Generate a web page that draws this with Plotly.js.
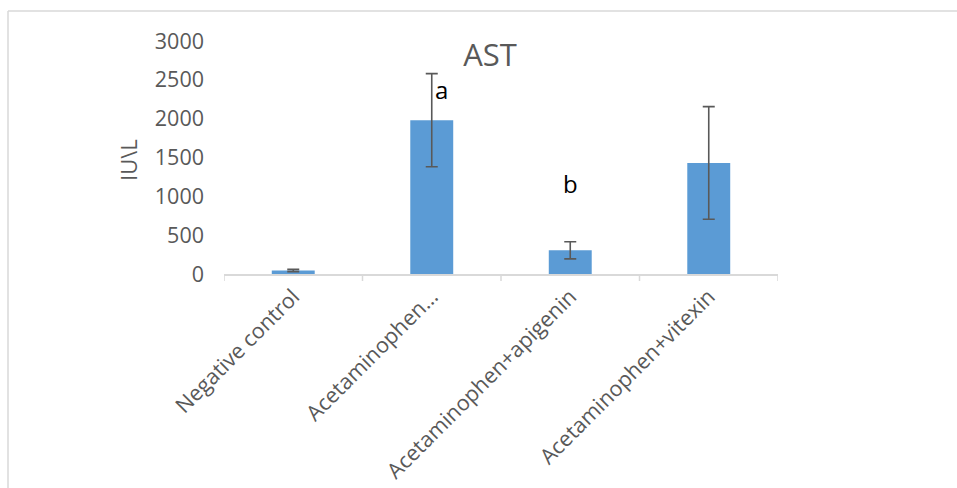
<!DOCTYPE html>
<html>
<head>
<meta charset="utf-8">
<script src="https://cdn.plot.ly/plotly-3.0.1.min.js"></script>
<style>
  html, body { margin: 0; padding: 0; background: #ffffff; }
  #chart { width: 957px; height: 488px; }
</style>
</head>
<body>
<div id="chart"></div>
<script>
// Data
const categories = ["Negative control", "Acetaminophen…", "Acetaminophen+apigenin", "Acetaminophen+vitexin"];
const astValues = [45, 1980, 305, 1430];
const astErrors = [15, 600, 110, 725];
const yTickValues = [0, 500, 1000, 1500, 2000, 2500, 3000];
const letterLabels = ["a", "b"];
const letterX = [1.07, 2.0];
const letterY = [2370, 1170];

const FONT = "'Open Sans', 'Noto Sans', sans-serif";
const GREY = "#595959";

const trace = {
  type: "bar",
  x: [0, 1, 2, 3],
  y: astValues,
  marker: { color: "#5B9BD5" },
  error_y: {
    type: "data",
    array: astErrors,
    visible: true,
    color: GREY,
    thickness: 1.6,
    width: 6
  },
  hoverinfo: "skip"
};

const annotations = letterLabels.map((t, i) => ({
  x: letterX[i], y: letterY[i], xref: "x", yref: "y",
  text: t, showarrow: false,
  xanchor: "center", yanchor: "middle",
  font: { family: FONT, size: 24, color: "#000000" }
}));

annotations.push({
  text: "IU\\L",
  xref: "paper", yref: "paper",
  x: (128 - 224) / 554, y: (274 - 160) / 233,
  xanchor: "center", yanchor: "middle",
  textangle: -90, showarrow: false,
  font: { family: FONT, size: 22, color: GREY }
});

const layout = {
  width: 957,
  height: 488,
  margin: { l: 224, r: 179, t: 41, b: 214 },
  paper_bgcolor: "#ffffff",
  plot_bgcolor: "#ffffff",
  showlegend: false,
  bargap: 0.69,
  title: {
    text: "AST",
    x: 490 / 957,
    xref: "container",
    xanchor: "center",
    y: 1 - 55 / 488,
    yref: "container",
    yanchor: "middle",
    font: { family: FONT, size: 31, color: GREY }
  },
  xaxis: {
    type: "linear",
    range: [-0.5, 3.5],
    tickmode: "array",
    tickvals: [0, 1, 2, 3],
    ticktext: categories,
    tickangle: -45,
    showgrid: false,
    zeroline: false,
    showline: true,
    linecolor: "#d9d9d9",
    linewidth: 1.5,
    ticks: "",
    tickfont: { family: FONT, size: 21.5, color: GREY },
    fixedrange: true
  },
  yaxis: {
    range: [0, 3000],
    tickmode: "array",
    tickvals: yTickValues,
    ticktext: yTickValues.map(String),
    showgrid: false,
    zeroline: false,
    showline: false,
    ticks: "",
    ticklabelstandoff: 19,
    tickfont: { family: FONT, size: 21.5, color: GREY },
    fixedrange: true
  },
  annotations: annotations,
  shapes: [
    // category boundary tick marks below the x axis
    ...[-0.5, 0.5, 1.5, 2.5, 3.5].map(v => ({
      type: "line", xref: "x", yref: "paper",
      x0: v, x1: v, y0: 0, y1: -7 / 233,
      line: { color: "#d9d9d9", width: 1.5 }
    })),
    // chart frame border (top and left edges visible)
    { type: "line", xref: "paper", yref: "paper",
      x0: (8 - 224) / 554, x1: (960 - 224) / 554,
      y0: (274 - 11) / 233, y1: (274 - 11) / 233,
      line: { color: "#d9d9d9", width: 1.5 } },
    { type: "line", xref: "paper", yref: "paper",
      x0: (8 - 224) / 554, x1: (8 - 224) / 554,
      y0: (274 - 11) / 233, y1: (274 - 492) / 233,
      line: { color: "#d9d9d9", width: 1.5 } }
  ]
};

Plotly.newPlot("chart", [trace], layout, { displayModeBar: false, staticPlot: true });
</script>
</body>
</html>
